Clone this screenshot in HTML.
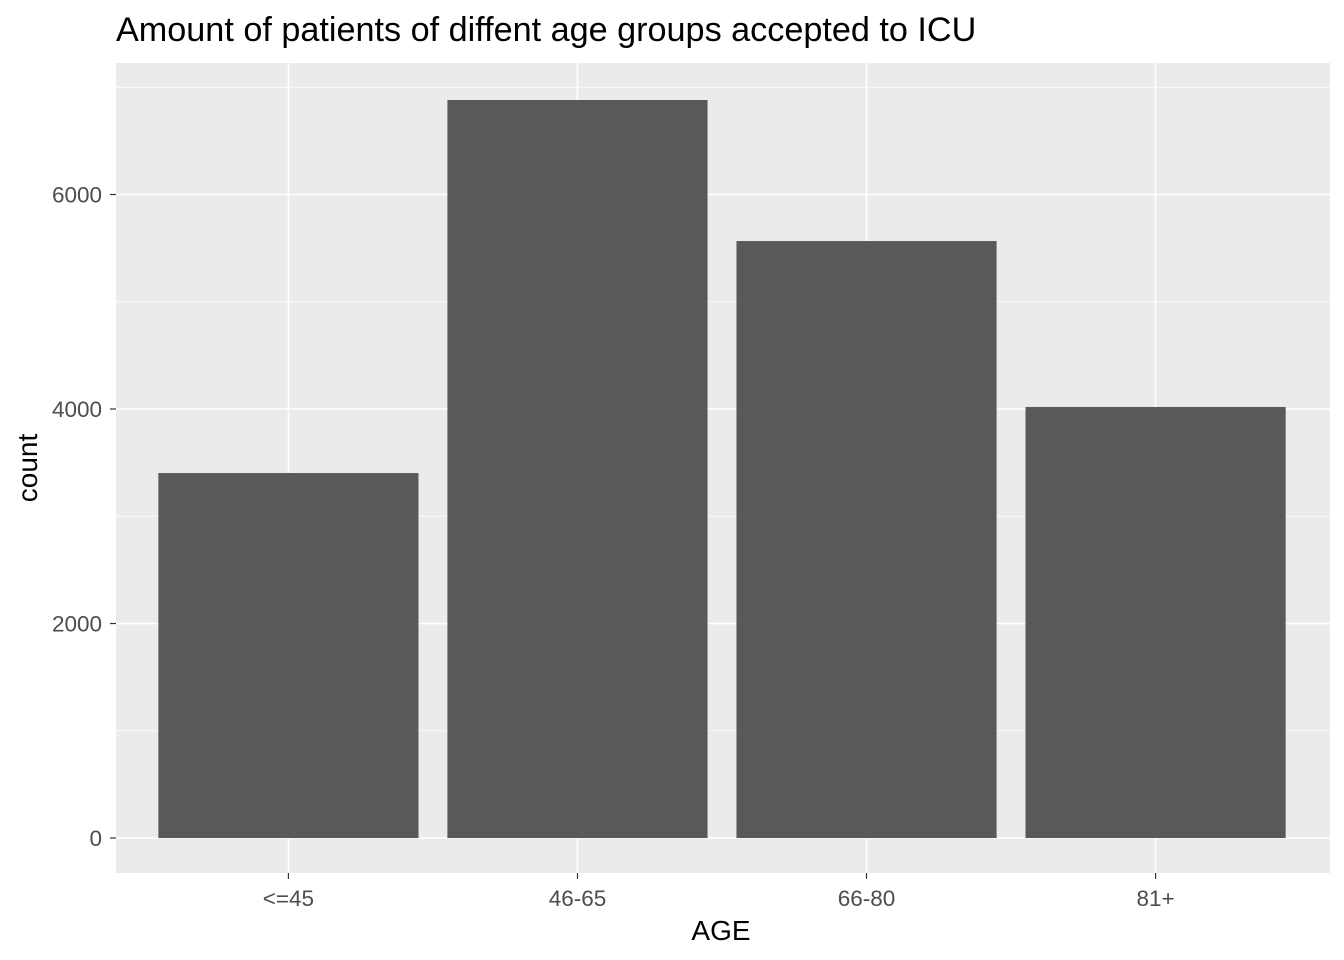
<!DOCTYPE html>
<html><head><meta charset="utf-8"><style>
body{margin:0;background:#fff;}
svg{display:block;font-family:"Liberation Sans",Arial,sans-serif;}
</style></head><body>
<svg id="chart" width="1344" height="960">
<text x="116" y="41" style="font-size:34.2px" fill="#000">Amount of patients of diffent age groups accepted to ICU</text>
<rect x="116" y="63" width="1214" height="810" fill="#ebebeb"/>
<g id="grid"></g><g id="bars"></g><g id="axes"></g>
<text x="721" y="940" style="font-size:28px" text-anchor="middle" fill="#000">AGE</text>
<text transform="translate(37,468) rotate(-90)" style="font-size:28px" text-anchor="middle" fill="#000">count</text>
</svg>
<script>
const categories = ["<=45","46-65","66-80","81+"];
const counts = [3403, 6881, 5566, 4019];
const yTicks = [0, 2000, 4000, 6000];
const yTickLabels = ["0","2000","4000","6000"];

const NS="http://www.w3.org/2000/svg";
const px0=116, px1=1330, py0=63, py1=873;
const yMin=-326, yMax=7226;
function y(v){return py1-(v-yMin)/(yMax-yMin)*(py1-py0);}
const step=(px1-px0)/(categories.length+0.2);
function x(i){return px0-1+step*(0.6+i);}
function mk(tag,attrs,parent){const e=document.createElementNS(NS,tag);for(const k in attrs)e.setAttribute(k,attrs[k]);parent.appendChild(e);return e;}
const grid=document.getElementById('grid'),bars=document.getElementById('bars'),axes=document.getElementById('axes');
for(let i=0;i<yTicks.length;i++){
  const mv=yTicks[i]+1000;
  if(y(mv)>py0){const l=mk('line',{x1:px0,x2:px1,y1:y(mv),y2:y(mv),stroke:'#fff','stroke-width':0.8},grid);
  
  }
}
yTicks.forEach((t,i)=>{
  const l=mk('line',{x1:px0,x2:px1,y1:y(t),y2:y(t),stroke:'#fff','stroke-width':1.6},grid);
  
  
  const tk=mk('line',{x1:px0-6,x2:px0,y1:y(t),y2:y(t),stroke:'#333','stroke-width':1.2},axes);
  
  
  const tx=mk('text',{x:px0-14,y:y(t)+8,style:'font-size:22.5px','text-anchor':'end',fill:'#4d4d4d'},axes);
  tx.textContent=yTickLabels[i];
  
  
});
categories.forEach((c,i)=>{
  const cx=x(i);
  const g=mk('line',{x1:cx,x2:cx,y1:py0,y2:py1,stroke:'#fff','stroke-width':1.6},grid);
  
  
  const w=step*0.9;
  const b=mk('rect',{x:cx-w/2,y:y(counts[i]),width:w,height:y(0)-y(counts[i]),fill:'#595959'},bars);
  
  
  const tk=mk('line',{x1:cx,x2:cx,y1:py1,y2:py1+6,stroke:'#333','stroke-width':1.2},axes);
  
  
  const tx=mk('text',{x:cx,y:906,style:'font-size:22.5px','text-anchor':'middle',fill:'#4d4d4d'},axes);
  tx.textContent=c;
  
  
});
</script>
</body></html>
